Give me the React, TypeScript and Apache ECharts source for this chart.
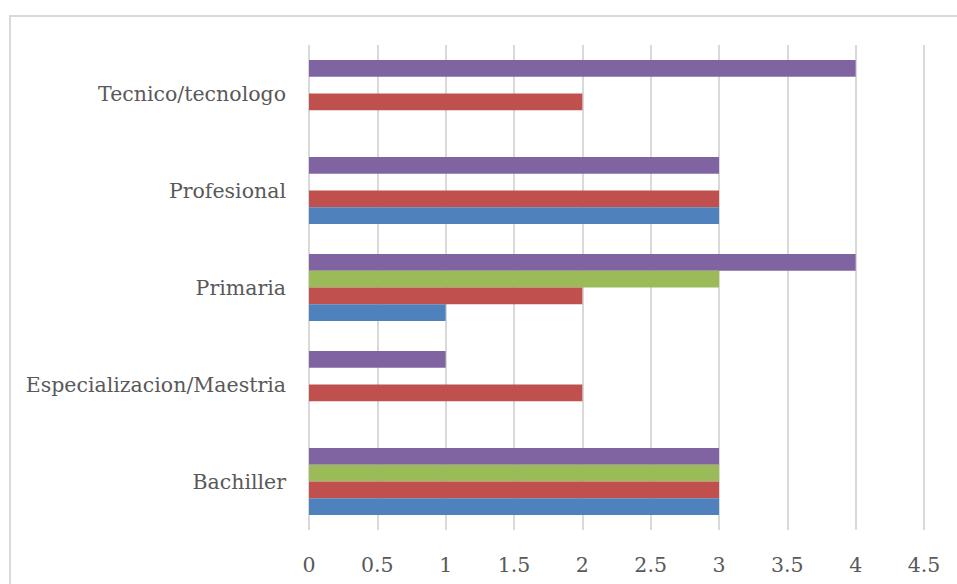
import React, { useEffect, useRef } from "react";
import * as echarts from "echarts";

const categories = ["Bachiller", "Especializacion/Maestria", "Primaria", "Profesional", "Tecnico/tecnologo"];
const seriesBlue = [3, null, 1, 3, null];
const seriesRed = [3, 2, 2, 3, 2];
const seriesGreen = [3, null, 3, null, null];
const seriesPurple = [3, 1, 4, 3, 4];
const xTicks = { min: 0, max: 4.5, interval: 0.5 };

const FONT = "DejaVu Serif";

export default function App() {
  const ref = useRef<HTMLDivElement>(null);
  useEffect(() => {
    if (!ref.current) return;
    const chart = echarts.init(ref.current, null, { renderer: "svg" });
    const mk = (name: string, data: (number | null)[], color: string) => ({
      name,
      type: "bar",
      data,
      barGap: "0%",
      barCategoryGap: "31%",
      itemStyle: { color },
    });
    chart.setOption({
      animation: false,
      backgroundColor: "#ffffff",
      graphic: [
        {
          type: "rect",
          shape: { x: 10, y: 16, width: 960, height: 600 },
          style: { fill: "none", stroke: "#d9d9d9", lineWidth: 2 },
          silent: true,
          z: -1,
        },
      ],
      grid: { left: 309, right: 33, top: 45, bottom: 54 },
      xAxis: {
        type: "value",
        min: xTicks.min,
        max: xTicks.max,
        interval: xTicks.interval,
        axisLine: { show: false },
        axisTick: { show: false },
        splitLine: { show: true, lineStyle: { color: "#d9d9d9", width: 2 } },
        axisLabel: { color: "#595959", fontFamily: FONT, fontSize: 20.5, margin: 24 },
      },
      yAxis: {
        type: "category",
        data: categories,
        axisLine: { show: false },
        axisTick: { show: false },
        axisLabel: { color: "#595959", fontFamily: FONT, fontSize: 20.5, margin: 23 },
      },
      series: [
        mk("Serie 4", seriesPurple, "#8064a2"),
        mk("Serie 3", seriesGreen, "#9bbb59"),
        mk("Serie 2", seriesRed, "#c0504d"),
        mk("Serie 1", seriesBlue, "#4f81bd"),
      ],
    });
    return () => chart.dispose();
  }, []);
  return (
    <div
      ref={ref}
      style={{ position: "fixed", left: 0, top: 0, width: 957, height: 584 }}
    />
  );
}
